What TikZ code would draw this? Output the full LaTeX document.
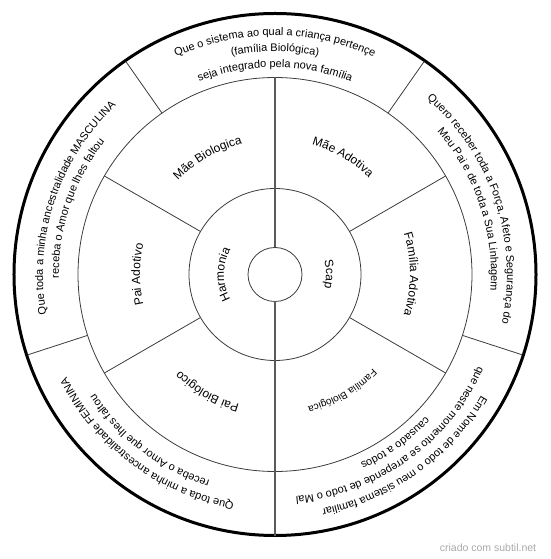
\documentclass[tikz,border=0pt]{standalone}
\usepackage{fontspec}
\setmainfont{Liberation Sans}
\usetikzlibrary{decorations.text}
\definecolor{rule}{HTML}{3C3C3C}
\definecolor{spoke}{HTML}{5A5A5A}
\definecolor{credit}{HTML}{A8A8A8}
\tikzset{rim/.style={draw=black,line width=3pt},ring/.style={draw=rule,line width=.8pt},divider/.style={draw=rule,line width=.8pt},axisline/.style={draw=spoke,line width=1.7pt}}
% one line of text bent round the hub: radius, middle angle, size, text
\newcommand{\arcline}[4]{\path[decorate,decoration={text along path,text align=center,text={|\fontsize{#3}{#3}\selectfont|#4}}] (#2+85:#1) arc[start angle=#2+85,end angle=#2-85,radius=#1];}

\begin{document}
\begin{tikzpicture}[x=1pt,y=1pt]
\useasboundingbox (-275,-284.5) rectangle (275,274.5);
\coordinate (hub) at (0,0);
% rings
\draw[rim] (hub) circle[radius=261];
\draw[ring] (hub) circle[radius=197];
\draw[ring] (hub) circle[radius=86];
\draw[ring] (hub) circle[radius=27];
% spokes
\draw[axisline] (90:197)--(90:27);
\draw[axisline] (270:27)--(270:261);
\foreach \a in {30,150,210,330} \draw[divider] (\a:86)--(\a:197);
\foreach \a in {55,125,198,342} \draw[divider] (\a:197)--(\a:260);
% inner ring
\arcline{51}{180}{12}{Harmonia}
\arcline{51}{0}{12}{Scap}
% middle ring
\arcline{135}{120}{12}{Mãe Biologica}
\arcline{135}{60}{12}{Mãe Adotiva}
\arcline{135}{0}{12}{Família Adotiva}
\arcline{136}{300}{10}{Família Biológica}
\arcline{135}{240}{12}{Pai Biológico}
\arcline{135}{180}{12}{Pai Adotivo}
% outer ring
\arcline{239}{90}{11}{Que o sistema ao qual a criança pertençe}
\arcline{223}{90}{11}{(família Biológica)}
\arcline{207}{90}{11}{seja integrado pela nova família}
\arcline{232}{18.5}{11}{Quero receber toda a Força, Afeto e Segurança do}
\arcline{216}{18.5}{11}{Meu Pai e de toda a Sua Linhagem}
\arcline{239}{305.5}{11}{Em Nome de todo o meu sistema familiar}
\arcline{223}{305.5}{11}{que neste momento se arrepende de todo o Mal}
\arcline{207}{305.5}{11}{causado a todos}
\arcline{232}{233}{11}{Que toda a minha ancestralidade FEMININA}
\arcline{216}{233}{11}{receba o Amor que lhes faltou}
\arcline{232}{161.5}{11}{Que toda a minha ancestralidade MASCULINA}
\arcline{216}{161.5}{11}{receba o Amor que lhes faltou}
\node[text=credit,font=\fontsize{10.5}{12}\selectfont] (credit) at (213,-273.5) {criado com subtil.net};
\end{tikzpicture}
\end{document}
